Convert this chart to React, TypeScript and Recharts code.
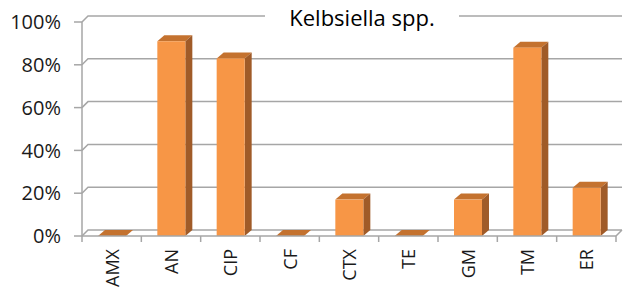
import React from "react";
import { BarChart, Bar, XAxis, YAxis, CartesianGrid } from "recharts";

const drugs = ["AMX", "AN", "CIP", "CF", "CTX", "TE", "GM", "TM", "ER"];
const resistance = [0, 91, 83, 0, 17, 0, 17, 88, 22.5];
const yTicks = [0, 20, 40, 60, 80, 100];
const title = "Kelbsiella spp.";

const data = drugs.map((d, i) => ({ drug: d, value: resistance[i] }));

const DX = 7;
const DY = 6;
const gridColor = "#a6a6a6";
const font = "'Open Sans', sans-serif";

// excel-ish 3d column: front face + side + top
function Column3D(props: any) {
  const { x, y, width, height } = props;
  if (x == null || y == null) return null;
  const h = Math.max(0, height || 0);
  const r = x + width;
  return (
    <g>
      <path
        d={`M${x},${y}L${x + DX},${y - DY}L${r + DX},${y - DY}L${r},${y}Z`}
        fill="#c4722f"
      />
      {h > 0 && (
        <path
          d={`M${r},${y}L${r + DX},${y - DY}L${r + DX},${y + h - DY}L${r},${y + h}Z`}
          fill="#a05b28"
        />
      )}
      {h > 0 && <rect x={x} y={y} width={width} height={h} fill="#f79646" />}
    </g>
  );
}

function gridLine(p: any) {
  const { x1, y1, x2 } = p;
  let d = `M${x1},${y1}L${x1 + DX - 1},${y1 - DY}L${x2 + DX - 1},${y1 - DY}`;
  if (Math.abs(y1 - 236) < 1) d += `M${x2},${y1}L${x2 + DX - 1},${y1 - DY}`;
  return <path key={p.key} d={d} stroke={gridColor} strokeWidth={1.5} fill="none" />;
}

function DrugTick(props: any) {
  const { x, payload, index } = props;
  const half = payload && payload.offset ? payload.offset : 29.67;
  const left = x - half;
  const ty = 249;
  return (
    <g>
      <line x1={left} y1={236} x2={left} y2={242} stroke={gridColor} strokeWidth={1.5} />
      {index === drugs.length - 1 && (
        <line x1={x + half} y1={236} x2={x + half} y2={242} stroke={gridColor} strokeWidth={1.5} />
      )}
      <text
        x={x}
        y={ty}
        transform={`rotate(-90, ${x}, ${ty})`}
        textAnchor="end"
        dominantBaseline="central"
        fontSize={18}
        fontFamily={font}
        fill="#1a1a1a"
      >
        {payload.value}
      </text>
    </g>
  );
}

export default function App() {
  return (
    <div style={{ position: "fixed", left: 0, top: 0, width: 624, height: 293, background: "#fff" }}>
      <BarChart
        width={624}
        height={293}
        data={data}
        margin={{ top: 22, right: 8, bottom: 0, left: 0 }}
        barSize={28}
      >
        <CartesianGrid horizontal={gridLine} vertical={false} />
        <XAxis
          dataKey="drug"
          height={57}
          tickLine={false}
          axisLine={{ stroke: gridColor, strokeWidth: 1.5 }}
          tick={<DrugTick />}
          interval={0}
        />
        <YAxis
          width={82}
          domain={[0, 100]}
          ticks={yTicks}
          tickFormatter={(v) => `${v}%`}
          axisLine={{ stroke: gridColor, strokeWidth: 1.5 }}
          tickLine={{ stroke: gridColor, strokeWidth: 1.5 }}
          tickSize={8}
          tickMargin={13}
          tick={{ fontSize: 20, fontFamily: font, fill: "#1a1a1a" }}
        />
        <Bar dataKey="value" shape={<Column3D />} isAnimationActive={false} />
      </BarChart>
      <div
        style={{
          position: "absolute",
          left: 265,
          width: 194,
          top: 3,
          textAlign: "center",
          background: "#fff",
          fontFamily: font,
          fontSize: 22,
          lineHeight: "28px",
          color: "#000",
        }}
      >
        {title}
      </div>
    </div>
  );
}
